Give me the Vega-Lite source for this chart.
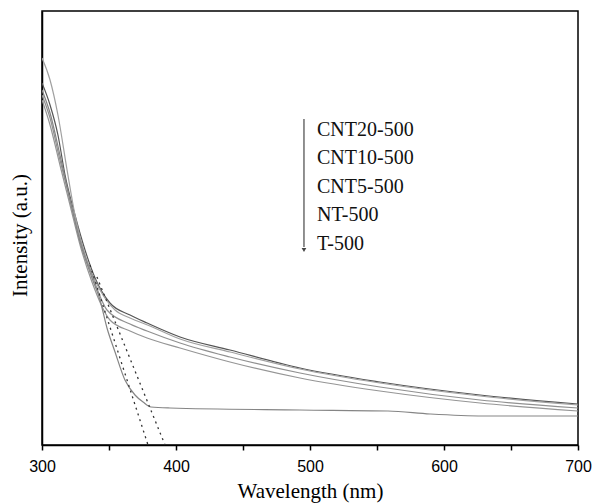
{
  "$schema": "https://vega.github.io/schema/vega-lite/v6.json",
  "width": 536,
  "height": 434,
  "autosize": {"type": "none"},
  "padding": {"left": 42, "top": 11, "right": 23, "bottom": 58},
  "background": "white",
  "config": {
    "view": {"stroke": "black", "strokeWidth": 1.5},
    "axis": {"grid": false, "domainColor": "black", "domainWidth": 1.5, "tickColor": "black", "tickWidth": 1.5}
  },
  "datasets": {
    "curves": [
      {"series": "CNT20-500", "wl": 300, "I": 362},
      {"series": "CNT20-500", "wl": 306.0, "I": 340},
      {"series": "CNT20-500", "wl": 311.9, "I": 310},
      {"series": "CNT20-500", "wl": 317.2, "I": 270},
      {"series": "CNT20-500", "wl": 324.6, "I": 230},
      {"series": "CNT20-500", "wl": 332.1, "I": 195},
      {"series": "CNT20-500", "wl": 339.6, "I": 167},
      {"series": "CNT20-500", "wl": 350.7, "I": 142},
      {"series": "CNT20-500", "wl": 365.7, "I": 130},
      {"series": "CNT20-500", "wl": 378.4, "I": 122},
      {"series": "CNT20-500", "wl": 403.0, "I": 108},
      {"series": "CNT20-500", "wl": 440.3, "I": 95},
      {"series": "CNT20-500", "wl": 492.5, "I": 77},
      {"series": "CNT20-500", "wl": 552.2, "I": 63},
      {"series": "CNT20-500", "wl": 626.9, "I": 50},
      {"series": "CNT20-500", "wl": 700, "I": 41},
      {"series": "CNT10-500", "wl": 300, "I": 387},
      {"series": "CNT10-500", "wl": 306.0, "I": 365},
      {"series": "CNT10-500", "wl": 311.9, "I": 330},
      {"series": "CNT10-500", "wl": 318.7, "I": 275},
      {"series": "CNT10-500", "wl": 324.6, "I": 230},
      {"series": "CNT10-500", "wl": 332.1, "I": 190},
      {"series": "CNT10-500", "wl": 343.3, "I": 155},
      {"series": "CNT10-500", "wl": 354.5, "I": 135},
      {"series": "CNT10-500", "wl": 365.7, "I": 127},
      {"series": "CNT10-500", "wl": 380.6, "I": 119},
      {"series": "CNT10-500", "wl": 403.0, "I": 106},
      {"series": "CNT10-500", "wl": 440.3, "I": 93},
      {"series": "CNT10-500", "wl": 492.5, "I": 76},
      {"series": "CNT10-500", "wl": 552.2, "I": 62},
      {"series": "CNT10-500", "wl": 626.9, "I": 49},
      {"series": "CNT10-500", "wl": 700, "I": 40},
      {"series": "CNT5-500", "wl": 300, "I": 350},
      {"series": "CNT5-500", "wl": 306.0, "I": 327},
      {"series": "CNT5-500", "wl": 313.4, "I": 285},
      {"series": "CNT5-500", "wl": 320.9, "I": 245},
      {"series": "CNT5-500", "wl": 328.4, "I": 205},
      {"series": "CNT5-500", "wl": 337.3, "I": 170},
      {"series": "CNT5-500", "wl": 348.5, "I": 135},
      {"series": "CNT5-500", "wl": 365.7, "I": 121},
      {"series": "CNT5-500", "wl": 378.4, "I": 114},
      {"series": "CNT5-500", "wl": 403.0, "I": 102},
      {"series": "CNT5-500", "wl": 440.3, "I": 88},
      {"series": "CNT5-500", "wl": 492.5, "I": 72},
      {"series": "CNT5-500", "wl": 552.2, "I": 58},
      {"series": "CNT5-500", "wl": 626.9, "I": 45},
      {"series": "CNT5-500", "wl": 700, "I": 37},
      {"series": "NT-500", "wl": 300, "I": 345},
      {"series": "NT-500", "wl": 306.0, "I": 320},
      {"series": "NT-500", "wl": 313.4, "I": 280},
      {"series": "NT-500", "wl": 320.9, "I": 240},
      {"series": "NT-500", "wl": 328.4, "I": 200},
      {"series": "NT-500", "wl": 337.3, "I": 163},
      {"series": "NT-500", "wl": 350.7, "I": 125},
      {"series": "NT-500", "wl": 365.7, "I": 114},
      {"series": "NT-500", "wl": 378.4, "I": 107},
      {"series": "NT-500", "wl": 403.0, "I": 97},
      {"series": "NT-500", "wl": 440.3, "I": 83},
      {"series": "NT-500", "wl": 492.5, "I": 67},
      {"series": "NT-500", "wl": 552.2, "I": 54},
      {"series": "NT-500", "wl": 626.9, "I": 42},
      {"series": "NT-500", "wl": 700, "I": 34},
      {"series": "T-500", "wl": 300, "I": 355},
      {"series": "T-500", "wl": 306.0, "I": 332},
      {"series": "T-500", "wl": 313.4, "I": 290},
      {"series": "T-500", "wl": 320.9, "I": 245},
      {"series": "T-500", "wl": 328.4, "I": 203},
      {"series": "T-500", "wl": 337.3, "I": 167},
      {"series": "T-500", "wl": 343.3, "I": 145},
      {"series": "T-500", "wl": 348.5, "I": 117},
      {"series": "T-500", "wl": 354.5, "I": 93},
      {"series": "T-500", "wl": 361.9, "I": 65},
      {"series": "T-500", "wl": 369.4, "I": 50},
      {"series": "T-500", "wl": 375.4, "I": 43},
      {"series": "T-500", "wl": 381.3, "I": 38},
      {"series": "T-500", "wl": 395.5, "I": 37},
      {"series": "T-500", "wl": 492.5, "I": 35},
      {"series": "T-500", "wl": 558.2, "I": 34},
      {"series": "T-500", "wl": 589.6, "I": 31},
      {"series": "T-500", "wl": 629.1, "I": 29},
      {"series": "T-500", "wl": 700, "I": 29}
    ],
    "tangents": [
      {"line": "a", "wl": 335.8, "I": 180},
      {"line": "a", "wl": 379.1, "I": 0},
      {"line": "b", "wl": 341.0, "I": 168},
      {"line": "b", "wl": 391.8, "I": 0}
    ],
    "labels": [
      {"name": "CNT20-500", "wl": 505.2, "I": 315},
      {"name": "CNT10-500", "wl": 505.2, "I": 287},
      {"name": "CNT5-500", "wl": 505.2, "I": 258},
      {"name": "NT-500", "wl": 505.2, "I": 230},
      {"name": "T-500", "wl": 505.2, "I": 201}
    ],
    "arrow": [
      {"wl": 495.5, "top": 326, "bottom": 198}
    ],
    "arrowhead": [
      {"wl": 495.5, "I": 195}
    ]
  },
  "layer": [
    {
      "data": {"name": "curves"},
      "mark": {"type": "line", "strokeWidth": 1.2, "clip": true, "interpolate": "monotone"},
      "encoding": {
        "x": {"field": "wl", "type": "quantitative",
              "scale": {"domain": [300, 700], "nice": false},
              "axis": {"values": [300, 350, 400, 450, 500, 550, 600, 650, 700],
                       "labelExpr": "datum.value % 100 === 0 ? datum.label : ''",
                       "labelFlush": false, "labelOverlap": false,
                       "tickSize": 5, "labelPadding": 8,
                       "labelFont": "Liberation Sans", "labelFontSize": 16, "labelColor": "black",
                       "title": "Wavelength (nm)", "titleFont": "Liberation Serif", "titleFontSize": 21,
                       "titleFontWeight": "normal", "titleColor": "black",
                       "titleBaseline": "alphabetic", "titleY": 52}},
        "y": {"field": "I", "type": "quantitative",
              "scale": {"domain": [0, 434], "nice": false},
              "axis": {"ticks": false, "labels": false,
                       "title": "Intensity (a.u.)", "titleFont": "Liberation Serif", "titleFontSize": 21,
                       "titleFontWeight": "normal", "titleColor": "black",
                       "titleAngle": -90, "titleBaseline": "middle", "titleX": -22, "titleY": 224}},
        "color": {"field": "series", "type": "nominal",
                  "scale": {"domain": ["CNT20-500", "CNT10-500", "CNT5-500", "NT-500", "T-500"],
                            "range": ["#555555", "#a0a0a0", "#909090", "#959595", "#858585"]},
                  "legend": null}
      }
    },
    {
      "data": {"name": "tangents"},
      "mark": {"type": "line", "strokeWidth": 1.3, "strokeDash": [2, 4], "color": "#333"},
      "encoding": {
        "x": {"field": "wl", "type": "quantitative"},
        "y": {"field": "I", "type": "quantitative"},
        "detail": {"field": "line", "type": "nominal"}
      }
    },
    {
      "data": {"name": "arrow"},
      "mark": {"type": "rule", "strokeWidth": 1.3, "color": "#555"},
      "encoding": {
        "x": {"field": "wl", "type": "quantitative"},
        "y": {"field": "top", "type": "quantitative"},
        "y2": {"field": "bottom"}
      }
    },
    {
      "data": {"name": "arrowhead"},
      "mark": {"type": "point", "shape": "triangle-down", "filled": true, "size": 22, "color": "#444", "opacity": 1},
      "encoding": {
        "x": {"field": "wl", "type": "quantitative"},
        "y": {"field": "I", "type": "quantitative"}
      }
    },
    {
      "data": {"name": "labels"},
      "mark": {"type": "text", "align": "left", "baseline": "middle", "font": "Liberation Serif", "fontSize": 20, "color": "#111"},
      "encoding": {
        "x": {"field": "wl", "type": "quantitative"},
        "y": {"field": "I", "type": "quantitative"},
        "text": {"field": "name", "type": "nominal"}
      }
    }
  ]
}
